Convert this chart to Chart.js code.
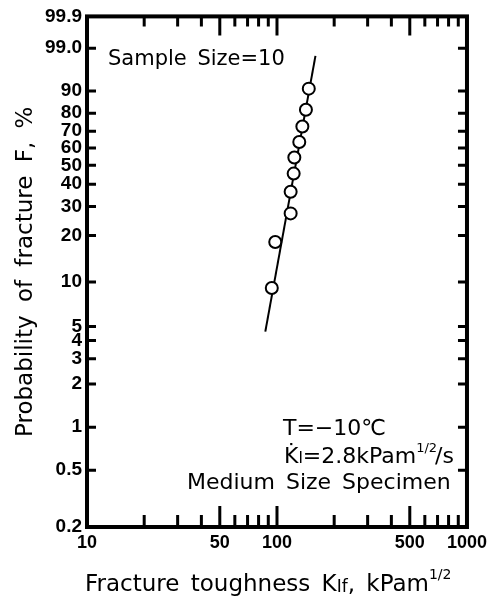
<!DOCTYPE html>
<html>
<head>
<meta charset="utf-8">
<script src="https://cdn.jsdelivr.net/npm/chart.js@4.4.0/dist/chart.umd.min.js"></script>
<style>
html,body{margin:0;padding:0;background:#fff;}
canvas{display:block;}
</style>
</head>
<body>
<canvas id="weibull" width="492" height="597"></canvas>
<script>
// fracture toughness of the 10 specimens (kPa m^1/2), ranked
const toughness=[93.9,97.9,118,118,122.4,123.4,131,136,142,147];
// median rank i/(n+1), in %
const fracProb=[9.1,18.2,27.3,36.4,45.5,54.5,63.6,72.7,81.8,90.9];
// ends of the fitted weibull line
const fitK=[86.8,159.4];
const fitProb=[4.6,98.3];

const xLabelTicks=[10,50,100,500,1000];
const xLongTicks=[50,100,500];
const xShortTicks=[20,30,40,60,70,80,90,200,300,400,600,700,800,900];
const yTickProb=[0.2,0.5,1,2,3,4,5,10,20,30,40,50,60,70,80,90,99.0,99.9];
const yTickText=['0.2','0.5','1','2','3','4','5','10','20','30','40','50','60','70','80','90','99.0','99.9'];
const yTopProb=99.955;

function wb(p){return Math.log(-Math.log(1-p/100));}

const yMin=wb(0.2), yMax=wb(yTopProb);

function runs(ctx,x,y,parts){
  for(const [t,size,dy] of parts){
    ctx.font=size+'px "DejaVu Sans"';
    ctx.fillText(t,x,y+(dy||0));
    x+=ctx.measureText(t).width;
  }
  return x;
}

const paperPlugin={
  id:'paper',
  afterDatasetsDraw(chart){
    const ctx=chart.ctx, a=chart.chartArea, xs=chart.scales.x, ys=chart.scales.y;
    ctx.save();
    ctx.strokeStyle='#000';
    ctx.fillStyle='#000';
    ctx.lineWidth=3;
    ctx.beginPath();
    // y ticks, both sides, pointing in
    yTickProb.forEach(p=>{
      if(p>=99.9)return;
      const y=ys.getPixelForValue(wb(p));
      ctx.moveTo(a.left,y);ctx.lineTo(a.left+9,y);
      ctx.moveTo(a.right,y);ctx.lineTo(a.right-9,y);
    });
    // x ticks top and bottom
    xShortTicks.forEach(k=>{
      const x=xs.getPixelForValue(k);
      ctx.moveTo(x,a.bottom);ctx.lineTo(x,a.bottom-12);
      ctx.moveTo(x,a.top);ctx.lineTo(x,a.top+10);
    });
    xLongTicks.forEach(k=>{
      const x=xs.getPixelForValue(k);
      ctx.moveTo(x,a.bottom);ctx.lineTo(x,a.bottom-21);
      ctx.moveTo(x,a.top);ctx.lineTo(x,a.top+19);
    });
    ctx.stroke();
    ctx.lineWidth=4;
    ctx.strokeRect(a.left,a.top,a.width,a.height);

    ctx.textAlign='left';
    ctx.textBaseline='alphabetic';
    ctx.wordSpacing='4px';
    runs(ctx,108,65,[['Sample Size=10',21]]);
    runs(ctx,283,435,[['T=\u221210\u2103',22]]);
    let x=runs(ctx,284,463,[['K\u0307',22],['I',15],['=2.8kPam',22]]);
    x=runs(ctx,x,463,[['1/2',13,-11]]);
    runs(ctx,x-2,463,[['/s',22]]);
    runs(ctx,187,489,[['Medium Size Specimen',22]]);

    // axis titles
    x=runs(ctx,85,591,[['Fracture toughness K',23],['If',17,1],[', kPam',23]]);
    runs(ctx,x,591,[['1/2',14,-12]]);
    ctx.translate(32,437);
    ctx.rotate(-Math.PI/2);
    ctx.wordSpacing='6px';
    runs(ctx,0,0,[['Probability of fracture F, %',23]]);
    ctx.restore();
  }
};

new Chart(document.getElementById('weibull'),{
  type:'scatter',
  data:{
    datasets:[
      {
        data:toughness.map((k,i)=>({x:k,y:wb(fracProb[i])})),
        showLine:false,
        pointRadius:6,
        pointBorderWidth:2,
        pointBackgroundColor:'#fff',
        pointBorderColor:'#000',
        order:0
      },
      {
        data:fitK.map((k,i)=>({x:k,y:wb(fitProb[i])})),
        showLine:true,
        borderColor:'#000',
        borderWidth:2,
        pointRadius:0,
        order:1
      }
    ]
  },
  options:{
    responsive:false,
    animation:false,
    devicePixelRatio:1,
    layout:{padding:{top:15,right:22,left:0,bottom:0}},
    plugins:{legend:{display:false},tooltip:{enabled:false}},
    scales:{
      x:{
        type:'logarithmic',
        min:10,max:1000,
        grid:{display:false,drawTicks:false},
        border:{display:false},
        afterBuildTicks:s=>{s.ticks=xLabelTicks.map(v=>({value:v}));},
        afterFit:s=>{s.height=70;},
        ticks:{
          autoSkip:false,maxRotation:0,padding:5,color:'#000',
          font:{family:'Liberation Sans',size:18,weight:'bold'},
          callback:v=>String(v)
        }
      },
      y:{
        type:'linear',
        min:yMin,max:yMax,
        grid:{display:false,drawTicks:false},
        border:{display:false},
        afterBuildTicks:s=>{s.ticks=yTickProb.map(p=>({value:p>=99.9?yMax:wb(p)}));},
        afterFit:s=>{s.width=87;},
        ticks:{
          autoSkip:false,padding:5,color:'#000',
          font:{family:'Liberation Sans',size:19,weight:'bold'},
          callback:(v,i)=>yTickText[i]
        }
      }
    }
  },
  plugins:[paperPlugin]
});
</script>
</body>
</html>
